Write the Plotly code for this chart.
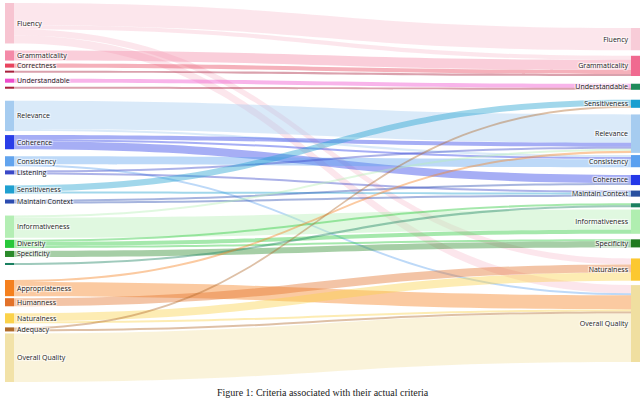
import plotly.graph_objects as go

# criteria as annotated (left) and the actual criteria they map to (right)
left_labels = ["Fluency", "Grammaticality", "Correctness", "", "Understandable", "",
               "Relevance", "Coherence", "Consistency", "Listening", "Sensitiveness",
               "Maintain Context", "Informativeness", "Diversity", "Specificity", "",
               "Appropriateness", "Humanness", "Naturalness", "Adequacy", "Overall Quality"]
right_labels = ["Fluency", "Grammaticality", "Understandable", "Sensitiveness", "Relevance",
                "Consistency", "Coherence", "Maintain Context", "", "Informativeness",
                "Specificity", "Naturalness", "Overall Quality"]

left_colors = ["#f7c4d1", "#f48aa8", "#e8445e", "#a8203c", "#ee4ccc", "#a8203c",
               "#a6ccf0", "#2a3ee8", "#62a4ee", "#3a48c8", "#1fa0d0",
               "#2c4cb0", "#b4eeb4", "#28c83a", "#2a8a2a", "#1a8060",
               "#f5801e", "#e2722a", "#fbd24a", "#b06a2a", "#f2e2a8"]
right_colors = ["#f8ccd8", "#f06a90", "#1f8a5a", "#1a9fd0", "#a6ccf0",
                "#5aa0f0", "#2438e8", "#2850a0", "#1a8060", "#b0eeb0",
                "#207a20", "#fcc830", "#f0dfa0"]

# links: (left criterion, actual criterion, count); ints refer to unlabeled nodes
links = [
    ("Fluency", "Fluency", 11), ("Fluency", "Grammaticality", 2),
    ("Fluency", "Naturalness", 3), ("Fluency", "Overall Quality", 4),
    ("Grammaticality", "Grammaticality", 5),
    ("Correctness", "Grammaticality", 2),
    (3, "Grammaticality", 1),
    ("Understandable", "Understandable", 2),
    (5, "Understandable", 1),
    ("Relevance", "Relevance", 14), ("Relevance", "Consistency", 1),
    ("Coherence", "Coherence", 4), ("Coherence", "Relevance", 2), ("Coherence", "Consistency", 1),
    ("Consistency", "Consistency", 4), ("Consistency", "Overall Quality", 1),
    ("Listening", "Relevance", 1), ("Listening", "Maintain Context", 1),
    ("Sensitiveness", "Sensitiveness", 3), ("Sensitiveness", "Maintain Context", 1),
    ("Maintain Context", "Coherence", 1), ("Maintain Context", "Maintain Context", 1),
    ("Informativeness", "Informativeness", 10), ("Informativeness", "Relevance", 1),
    ("Diversity", "Informativeness", 2), ("Diversity", 8, 1), ("Diversity", "Specificity", 1),
    ("Specificity", "Specificity", 3),
    (15, 8, 1),
    ("Appropriateness", "Relevance", 1), ("Appropriateness", "Overall Quality", 7),
    ("Humanness", "Naturalness", 4),
    ("Naturalness", "Naturalness", 4), ("Naturalness", "Overall Quality", 1),
    ("Adequacy", "Sensitiveness", 1), ("Adequacy", "Overall Quality", 1),
    ("Overall Quality", "Overall Quality", 24),
]

# spacing between consecutive nodes of each column (px, as in the figure)
left_gaps = [7, 3, 3, 6, 4, 12, 4, 7, 4, 11, 6, 12, 2, 3, 6, 15, 2, 7, 4, 2]
right_gaps = [5, 7, 9, 6, 2, 7, 5, 6, 2, 5, 10, 4]


def idx(name, labels):
    return name if isinstance(name, int) else labels.index(name)


def rgba(hex_color, a):
    h = hex_color.lstrip("#")
    r, g, b = int(h[0:2], 16), int(h[2:4], 16), int(h[4:6], 16)
    return f"rgba({r},{g},{b},{a})"


n_left = len(left_labels)
sources = [idx(s, left_labels) for s, t, v in links]
targets = [n_left + idx(t, right_labels) for s, t, v in links]
values = [v for s, t, v in links]
link_colors = [rgba(left_colors[s], 0.42) for s in sources]

# keep the columns in the reference order: stack nodes top to bottom
H = 379.0      # sankey domain height in px
W = 635.0      # sankey domain width in px
PAD = 6
THICK = 9
total = sum(values)
ky = (H - (n_left - 1) * PAD) / total

left_tot = [sum(v for s, v in zip(sources, values) if s == i) for i in range(n_left)]
right_tot = [sum(v for t, v in zip(targets, values) if t == n_left + i) for i in range(len(right_labels))]


def stack(totals, start, span, gaps):
    scale = (span - total * ky) / sum(gaps)
    ys, y = [], start
    for i, v in enumerate(totals):
        if i:
            y += gaps[i - 1] * scale
        h = v * ky
        ys.append(max((y + h / 2) / H, 0.001))
        y += h
    return ys


node_y = stack(left_tot, 0.0, H, left_gaps) + stack(right_tot, 25.0, 334.0, right_gaps)
node_x = [THICK / 2 / W] * n_left + [1 - THICK / 2 / W] * len(right_labels)

fig = go.Figure(go.Sankey(
    arrangement="fixed",
    node=dict(
        label=left_labels + right_labels,
        color=left_colors + right_colors,
        x=node_x, y=node_y,
        pad=PAD,
        thickness=THICK,
        line=dict(width=0),
    ),
    link=dict(source=sources, target=targets, value=values, color=link_colors),
    textfont=dict(family="Open Sans", size=7, color="#222"),
))

fig.add_annotation(text="Figure 1: Criteria associated with their actual criteria",
                   x=0.5, y=-0.028, xref="paper", yref="paper", yanchor="middle",
                   showarrow=False,
                   font=dict(family="Liberation Serif", size=10, color="#222"))

fig.update_layout(width=640, height=398, paper_bgcolor="white",
                  margin=dict(l=5, r=0, t=3, b=16))

fig.write_html("out.html", config={"displayModeBar": False},
               post_script="document.body.style.margin = '0px';")
